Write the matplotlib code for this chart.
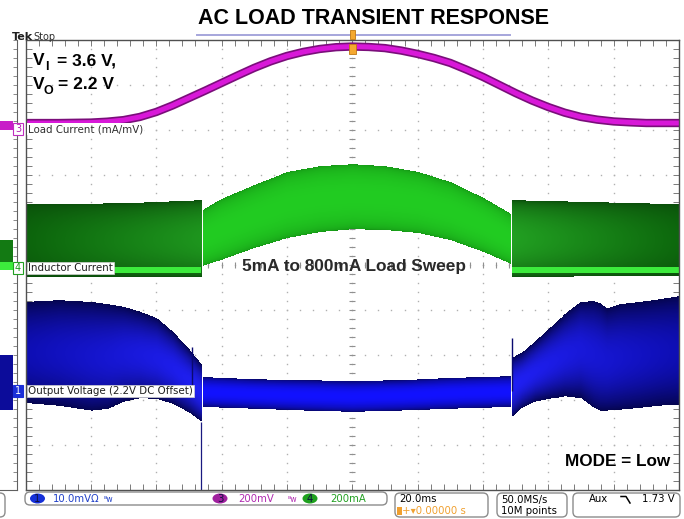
import numpy as np
import matplotlib.pyplot as plt
from matplotlib.colors import to_rgb
from matplotlib.patches import FancyBboxPatch, Ellipse, Rectangle

# ---- scope capture, time in ms (20 ms/div, trigger at 0) ----
# CH3: load current monitor, mV (200 mV/div)
t_load = [-100, -95, -90, -85, -80, -75, -70, -65, -60, -55, -50, -45, -40,
          -35, -30, -25, -20, -15, -10, -5, 0, 5, 10, 15, 20, 25, 30, 35,
          40, 45, 50, 55, 60, 65, 70, 75, 80, 85, 90, 95, 100]
load_mv = [31, 31, 31, 32, 33, 37, 44, 58, 80, 109, 142, 175, 209,
           243, 276, 305, 329, 347, 360, 368, 371, 369, 364, 353, 338, 320, 298, 268,
           236, 200, 164, 131, 102, 77, 58, 46, 38, 34, 31, 31, 31]

# CH4: inductor current envelope, mA (200 mA/div)
t_il_left = [-100, -70, -46.3]
il_left_hi = [280, 284, 298]
il_left_lo = [-40, -40, -40]
t_il_mid = [-45.7, -40, -30, -20, -10, 0, 10, 20, 30, 40, 48.3]
il_mid_hi = [258, 307, 369, 427, 453, 462, 453, 427, 382, 311, 240]
il_mid_lo = [9, 36, 89, 133, 160, 173, 169, 156, 124, 71, 18]
t_il_right = [48.9, 100]
il_right_hi = [298, 280]
il_right_lo = [-40, -36]
il_floor = [-22, 4]   # dense band near zero in the low-power segments

# CH1: output voltage ripple, mV around 2.2 V (10 mV/div)
t_vo_left = [-100, -90, -80, -75, -70, -65, -60, -55, -50, -46.3]
vo_left_hi = [19.8, 20.2, 19.8, 19.3, 18.7, 17.6, 16.2, 13.1, 9.1, 5.8]
vo_left_lo = [-2.7, -3.3, -4.4, -4.0, -2.4, -1.6, -1.8, -2.9, -4.9, -6.9]
t_vo_mid = [-45.7, -30, -15, 0, 15, 30, 48.3]
vo_mid_hi = [2.9, 2.4, 2.2, 2.0, 2.2, 2.7, 3.1]
vo_mid_lo = [-3.6, -4.0, -4.4, -4.7, -4.4, -4.0, -3.6]
t_vo_right = [48.9, 52, 56, 60, 65, 70, 74, 76, 78, 82, 88, 94, 100]
vo_right_hi = [7.3, 8.4, 10.9, 13.6, 16.9, 19.6, 19.8, 19.3, 18.2, 19.1, 19.6, 20.2, 20.9]
vo_right_lo = [-5.8, -3.8, -2.4, -1.8, -1.3, -1.6, -3.8, -4.4, -4.4, -4.2, -3.8, -3.3, -3.1]
vo_spike_t = [-49.0, 48.9]
vo_spike_mv = [9.8, 11.8]
vo_glitch_t = -46.3

# zoomed-out overview strip on the left edge
strip_t = [0, 0.78]
strip_load = [0, 40]
strip_il = [-9, 124]
strip_il_floor = [-9, 27]
strip_vo = [-4.2, 8.0]

# channel reference position (div) and scale (units/div)
CH3 = (3.0, 200.0)
CH4 = (-0.07, 200.0)
CH1 = (-2.8, 10.0)


def div(v, ch):
    ref, scale = ch
    return ref + np.asarray(v, float) / scale


def band(ax, t, lo, hi, edge, mid_a, mid_b=None, power=0.7, z=3, xres=6.6, yres=135):
    """persistence-style band: dark edges, bright centre, colour drifting along x"""
    t = np.asarray(t, float)
    lo = np.asarray(lo, float)
    hi = np.asarray(hi, float)
    mid_b = mid_a if mid_b is None else mid_b
    x0, x1 = t[0], t[-1]
    y0, y1 = lo.min(), hi.max()
    xs = np.linspace(x0, x1, max(int((x1 - x0) * xres), 4))
    ys = np.linspace(y0, y1, max(int((y1 - y0) * yres), 4))
    L = np.interp(xs, t, lo)[None, :]
    H = np.interp(xs, t, hi)[None, :]
    r = (ys[:, None] - L) / (H - L)
    w = (np.sin(np.pi * np.clip(r, 0, 1)) ** power)[..., None]
    f = ((xs - x0) / max(x1 - x0, 1e-9))[None, :, None]
    mid = np.array(to_rgb(mid_a)) * (1 - f) + np.array(to_rgb(mid_b)) * f
    rgb = np.array(to_rgb(edge)) * (1 - w) + mid * w
    alpha = ((r >= 0) & (r <= 1)).astype(float)[..., None]
    ax.imshow(np.concatenate([rgb, alpha], axis=2), extent=(x0, x1, y0, y1),
              origin='lower', aspect='auto', interpolation='nearest', zorder=z)


W, H = 684, 519
fig = plt.figure(figsize=(W / 100, H / 100), dpi=100)
fig.patch.set_facecolor('white')

# ---- main graticule ----
ax = fig.add_axes([25.5 / W, 1 - 490 / H, (679 - 25.5) / W, 450 / H])
ax.set_facecolor('white')
dot_y = np.arange(-5, 5.001, 0.2)
dot_x = np.arange(-100, 100.01, 4)
for gx in range(-80, 81, 20):
    ax.plot(np.full_like(dot_y, gx), dot_y, ls='none', marker='s', ms=1.0,
            mfc='#B0B0B0', mec='none', zorder=1)
for gy in range(-4, 5):
    ax.plot(dot_x, np.full_like(dot_x, gy), ls='none', marker='s', ms=1.0,
            mfc='#B0B0B0', mec='none', zorder=1)
ax.plot(np.zeros_like(dot_y), dot_y, ls='none', marker='_', ms=5, mew=0.8,
        color='#909090', zorder=1)
ax.plot(dot_x, np.zeros_like(dot_x), ls='none', marker='|', ms=5, mew=0.8,
        color='#909090', zorder=1)

# CH4 inductor current
band(ax, t_il_left, div(il_left_lo, CH4), div(il_left_hi, CH4),
     '#0A4A0A', '#0C640C', '#1E961E', power=0.5)
band(ax, t_il_right, div(il_right_lo, CH4), div(il_right_hi, CH4),
     '#0A4A0A', '#22A022', '#0D680D', power=0.5)
for seg in (t_il_left, t_il_right):
    ax.fill_between(seg, div(il_floor[0], CH4), div(il_floor[1], CH4),
                    color='#3CEB3C', lw=0, zorder=4)
band(ax, t_il_mid, div(il_mid_lo, CH4), div(il_mid_hi, CH4),
     '#128A12', '#22CC22', power=0.3)

# CH1 output voltage
band(ax, t_vo_left, div(vo_left_lo, CH1), div(vo_left_hi, CH1),
     '#05054E', '#0E0EB4', '#2020F4', power=0.8)
band(ax, t_vo_mid, div(vo_mid_lo, CH1), div(vo_mid_hi, CH1),
     '#070766', '#1212FF', power=0.6)
band(ax, t_vo_right, div(vo_right_lo, CH1), div(vo_right_hi, CH1),
     '#05054E', '#2020F4', '#0E0EB4', power=0.8)
for st, sv in zip(vo_spike_t, vo_spike_mv):
    ax.vlines(st, div(0, CH1), div(sv, CH1), color='#0A0A70', lw=1.0, zorder=4)
ax.vlines(vo_glitch_t, -5, div(vo_left_lo[-1], CH1), color='#1A1A80', lw=0.9, zorder=4)

# CH3 load current
y3 = div(load_mv, CH3)
ax.plot(t_load, y3, color='#7A0E7A', lw=6.0, solid_capstyle='butt',
        solid_joinstyle='round', zorder=5)
ax.plot(t_load, y3, color='#D818D8', lw=3.6, solid_capstyle='butt',
        solid_joinstyle='round', zorder=6)

ax.set_xlim(-100, 100)
ax.set_ylim(-5, 5)
ax.set_xticks(dot_x)
ax.set_yticks(dot_y)
ax.tick_params(direction='in', length=4, width=0.7, colors='#7A7A7A',
               top=True, right=True, labelbottom=False, labelleft=False)
for sp in ax.spines.values():
    sp.set_color('#505050')
    sp.set_linewidth(1.0)
    sp.set_zorder(8)

# ---- overview strip ----
sx = fig.add_axes([0, 1 - 490 / H, 17 / W, 450 / H])
sx.set_xlim(0, 1)
sx.set_ylim(-5, 5)
sx.fill_between(strip_t, div(strip_load[0], CH3), div(strip_load[1], CH3), color='#C81EC8', lw=0)
sx.fill_between(strip_t, div(strip_il[0], CH4), div(strip_il[1], CH4), color='#137A13', lw=0)
sx.fill_between(strip_t, div(strip_il_floor[0], CH4), div(strip_il_floor[1], CH4), color='#3CEB3C', lw=0)
sx.fill_between(strip_t, div(strip_vo[0], CH1), div(strip_vo[1], CH1), color='#0C0C9A', lw=0)
for k in ('left', 'top'):
    sx.spines[k].set_visible(False)
for k in ('right', 'bottom'):
    sx.spines[k].set_color('#606060')
sx.set_xticks([])
sx.set_yticks(dot_y)
sx.tick_params(axis='y', direction='in', length=3, width=0.7, colors='#8A8A8A',
               left=False, right=True, labelleft=False)

# ---- annotation overlay in pixel coordinates ----
ov = fig.add_axes([0, 0, 1, 1])
ov.set_xlim(0, W)
ov.set_ylim(H, 0)
ov.axis('off')
ov.patch.set_alpha(0)

bold = dict(family='Liberation Sans', fontweight='bold')
ov.text(374, 18, 'AC LOAD TRANSIENT RESPONSE', ha='center', va='center',
        fontsize=15.5, color='black', **bold)
ov.plot([197, 510], [35, 35], color='#A6A6DC', lw=1.4)
ov.add_patch(Rectangle((350, 30), 5, 9, fc='#F4A830', ec='#C07810', lw=0.6, zorder=9))
ov.add_patch(Rectangle((349, 44), 7, 10, fc='#F4A830', ec='#C07810', lw=0.6, zorder=9))

ov.text(12, 40, 'Tek', fontsize=8, fontweight='bold', color='#202020', va='baseline')
ov.text(33, 40, 'Stop', fontsize=7, color='#303030', va='baseline')

ov.text(33, 65, 'V', fontsize=12.5, color='black', va='baseline', **bold)
ov.text(45, 70, 'I', fontsize=9, color='black', va='baseline', **bold)
ov.text(57, 65, '= 3.6 V,', fontsize=12.5, color='black', va='baseline', **bold)
ov.text(33, 89, 'V', fontsize=12.5, color='black', va='baseline', **bold)
ov.text(44, 94, 'O', fontsize=9, color='black', va='baseline', **bold)
ov.text(58, 89, '= 2.2 V', fontsize=12.5, color='black', va='baseline', **bold)

ov.text(354.5, 266.5, '5mA to 800mA Load Sweep', ha='center', va='center',
        fontsize=12.4, color='#2A2A2A', zorder=10, **bold)
ov.text(670, 461.5, 'MODE = Low', ha='right', va='center', fontsize=12.3,
        color='black', **bold)

# channel markers and labels
lab = dict(fontsize=7.4, family='DejaVu Sans', va='center', zorder=10)
ov.text(18, 129, '3', ha='center', color='#B020B0', fontsize=7, va='center', zorder=10,
        bbox=dict(boxstyle='square,pad=0.15', fc='white', ec='#C030C0', lw=0.8))
ov.text(28, 129, 'Load Current (mA/mV)', color='#303030',
        bbox=dict(boxstyle='square,pad=0.1', fc='white', ec='none'), **lab)
ov.text(18, 268, '4', ha='center', color='#1A9A1A', fontsize=7, va='center', zorder=10,
        bbox=dict(boxstyle='square,pad=0.15', fc='white', ec='#22A022', lw=0.8))
ov.text(28, 268, 'Inductor Current', color='#202020',
        bbox=dict(boxstyle='square,pad=0.1', fc='white', ec='#D0D0D0', lw=0.5), **lab)
ov.text(18, 391, '1', ha='center', color='white', fontsize=7, va='center', zorder=10,
        bbox=dict(boxstyle='square,pad=0.15', fc='#1A2ED8', ec='#1A2ED8', lw=0.8))
ov.text(28, 391, 'Output Voltage (2.2V DC Offset)', color='#202020',
        bbox=dict(boxstyle='square,pad=0.1', fc='white', ec='#D0D0D0', lw=0.5), **lab)

# bottom status bar
def rbox(x, y, w, h):
    ov.add_patch(FancyBboxPatch((x, y), w, h, boxstyle='round,pad=0,rounding_size=5',
                                fc='white', ec='#8C8C8C', lw=1.0))

rbox(-12, 493, 17, 24)
rbox(25, 492, 362, 13)
rbox(395, 493, 93, 24)
rbox(497, 493, 70, 24)
rbox(573, 493, 107, 24)

bar = dict(fontsize=7.3, family='DejaVu Sans', va='center')
for cx, fc, num in [(37.5, '#1530D8', '1'), (220, '#A0209E', '3'), (310, '#1EA01E', '4')]:
    ov.add_patch(Ellipse((cx, 498.5), 15, 10, fc=fc, ec='none'))
    ov.text(cx, 498.8, num, ha='center', color='#101040', **bar)
ov.text(53, 498.8, '10.0mVΩ', color='#2040C8', **bar)
ov.text(104, 499, 'ᴮw', color='#2040C8', fontsize=5.5, va='center')
ov.text(238, 498.8, '200mV', color='#B02AB0', **bar)
ov.text(287, 499, 'ᴮw', color='#B02AB0', fontsize=5.5, va='center')
ov.text(330, 498.8, '200mA', color='#22A022', **bar)

ov.text(399, 499.5, '20.0ms', color='black', **bar)
ov.add_patch(Rectangle((397, 507), 5, 8, fc='#F0A030', ec='none'))
ov.text(402, 511.5, '+▾0.00000 s', color='#F0A030', **bar)
ov.text(501, 499.5, '50.0MS/s', color='black', **bar)
ov.text(501, 511.5, '10M points', color='black', **bar)
ov.text(589, 499.5, 'Aux', color='black', **bar)
ov.plot([621, 626, 630], [496.5, 496.5, 503], color='black', lw=1.1)
ov.text(675, 499.5, '1.73 V', ha='right', color='black', **bar)

fig.savefig('out.png', dpi=100, facecolor='white')
